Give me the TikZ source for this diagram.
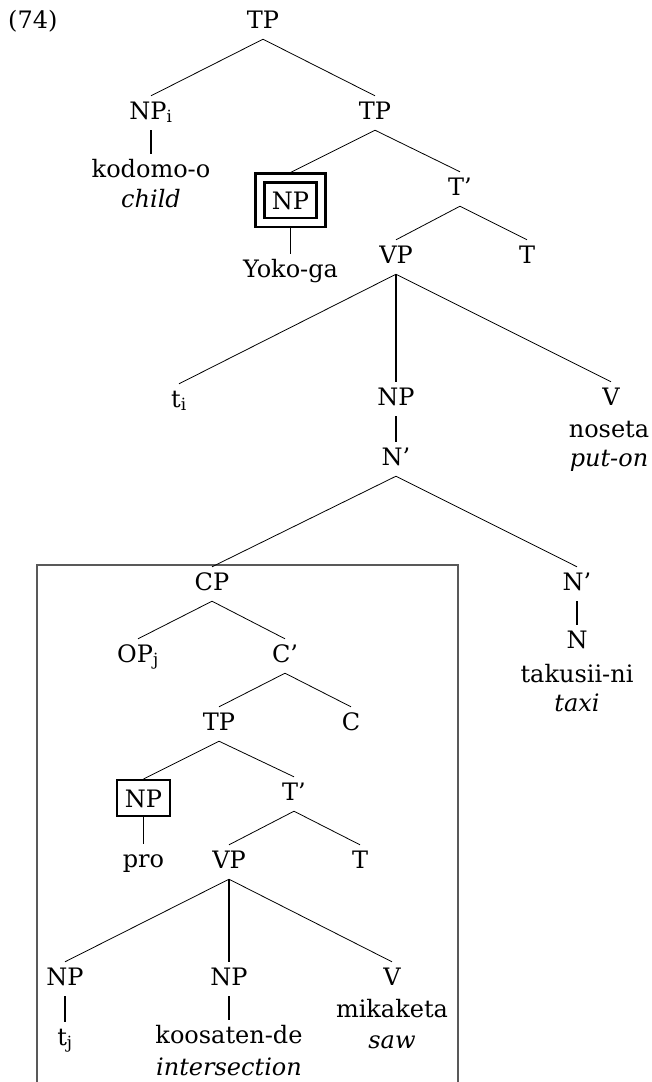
\documentclass[tikz,border=0pt]{standalone}
\usepackage{fontspec}
\setmainfont{DejaVu Serif}
\begin{document}
\begin{tikzpicture}[x=1pt,y=-1pt,
  every node/.style={inner sep=0pt, anchor=base, font=\fontsize{24pt}{29pt}\selectfont},
  cat/.style={text height=23pt, text depth=11pt},
  word/.style={text height=23pt, text depth=7pt},
  gloss/.style={font=\fontsize{24pt}{29pt}\selectfont\itshape},
  br/.style={line width=0.8pt},
  unary/.style={line width=1.7pt},
  unarythick/.style={line width=2.8pt},
  ringbox/.style={draw, line width=2.2pt, double, double distance=6.8pt,
    text height=18pt, text depth=0pt, inner xsep=12pt, inner ysep=13.3pt, outer sep=5.5pt},
  plainbox/.style={draw, line width=2pt, text height=18pt, text depth=0pt,
    inner xsep=8pt, inner ysep=9pt},
  frame/.style={draw=black!65, line width=1.1pt},
]
\useasboundingbox (0,0) rectangle (651,1082);

% example number
\node (ex) [anchor=base west] at (8,28) {(74)};

% matrix clause
\node[cat] (tp0) at (263,28) {TP};
\node[cat] (npi) at (151,119) {NP\textsubscript{i}};
\node[cat] (tp1) at (375,119) {TP};
\node[word] (kodomo) at (151,177) {kodomo-o};
\node[gloss] (child) at (151,207) {child};
\node[ringbox] (np1) at (290.5,209.3) {NP};
\node[word] (yoko) at (290.5,277) {Yoko-ga};
\node[cat] (tb1) at (460,195) {T'};
\node[cat] (vp1) at (396,263) {VP};
\node[cat] (t1) at (527,263) {T};
\node[cat] (ti) at (179,407) {t\textsubscript{i}};
\node[cat] (np2) at (396,405) {NP};
\node[cat] (v1) at (611,405) {V};
\node[word] (noseta) at (609,437) {noseta};
\node[gloss] (puton) at (609,466) {put-on};
\node[cat] (nb1) at (396,465) {N'};
\node[cat] (nb2) at (577,590) {N'};
\node[cat] (n) at (577,648) {N};
\node[word] (takusii) at (577,682) {takusii-ni};
\node[gloss] (taxi) at (577,711) {taxi};

% relative clause
\node[cat] (cp) at (212,590) {CP};
\node[cat] (opj) at (138,662) {OP\textsubscript{j}};
\node[cat] (cb) at (285,662) {C'};
\node[cat] (tp2) at (219,730) {TP};
\node[cat] (c) at (351,730) {C};
\node[plainbox] (np3) at (143.5,807) {NP};
\node[cat] (tb2) at (294,800) {T'};
\node[word] (pro) at (143.5,867) {pro};
\node[cat] (vp2) at (229,868) {VP};
\node[cat] (t2) at (360,868) {T};
\node[cat] (np4) at (65,985) {NP};
\node[cat] (np5) at (229,985) {NP};
\node[cat] (v2) at (392,985) {V};
\node[word] (tj) at (65,1045) {t\textsubscript{j}};
\node[word] (koosaten) at (229,1043) {koosaten-de};
\node[gloss] (inter) at (229,1075) {intersection};
\node[word] (mikaketa) at (392,1017) {mikaketa};
\node[gloss] (saw) at (392,1048) {saw};

% frame round the relative clause, open at the bottom
\draw[frame] (37,1082) -- (37,565) -- (458,565) -- (458,1082);

% branches
\draw[br] (tp0.south) -- (npi.north);
\draw[br] (tp0.south) -- (tp1.north);
\draw[unarythick] (npi.south) -- (kodomo.north);
\draw[br] (tp1.south) -- (np1.north);
\draw[br] (tp1.south) -- (tb1.north);
\draw[unary] (np1.south) -- (yoko.north);
\draw[br] (tb1.south) -- (vp1.north);
\draw[br] (tb1.south) -- (t1.north);
\draw[br] (vp1.south) -- (ti.north);
\draw[unary] (vp1.south) -- (np2.north);
\draw[br] (vp1.south) -- (v1.north);
\draw[unary] (np2.south) -- (nb1.north);
\draw[br] (nb1.south) -- (cp.north);
\draw[br] (nb1.south) -- (nb2.north);
\draw[unarythick] (nb2.south) -- (n.north);
\draw[br] (cp.south) -- (opj.north);
\draw[br] (cp.south) -- (cb.north);
\draw[br] (cb.south) -- (tp2.north);
\draw[br] (cb.south) -- (c.north);
\draw[br] (tp2.south) -- (np3.north);
\draw[br] (tp2.south) -- (tb2.north);
\draw[unary] (np3.south) -- (pro.north);
\draw[br] (tb2.south) -- (vp2.north);
\draw[br] (tb2.south) -- (t2.north);
\draw[br] (vp2.south) -- (np4.north);
\draw[unary] (vp2.south) -- (np5.north);
\draw[br] (vp2.south) -- (v2.north);
\draw[unarythick] (np4.south) -- (tj.north);
\draw[unary] (np5.south) -- (koosaten.north);
\end{tikzpicture}
\end{document}
